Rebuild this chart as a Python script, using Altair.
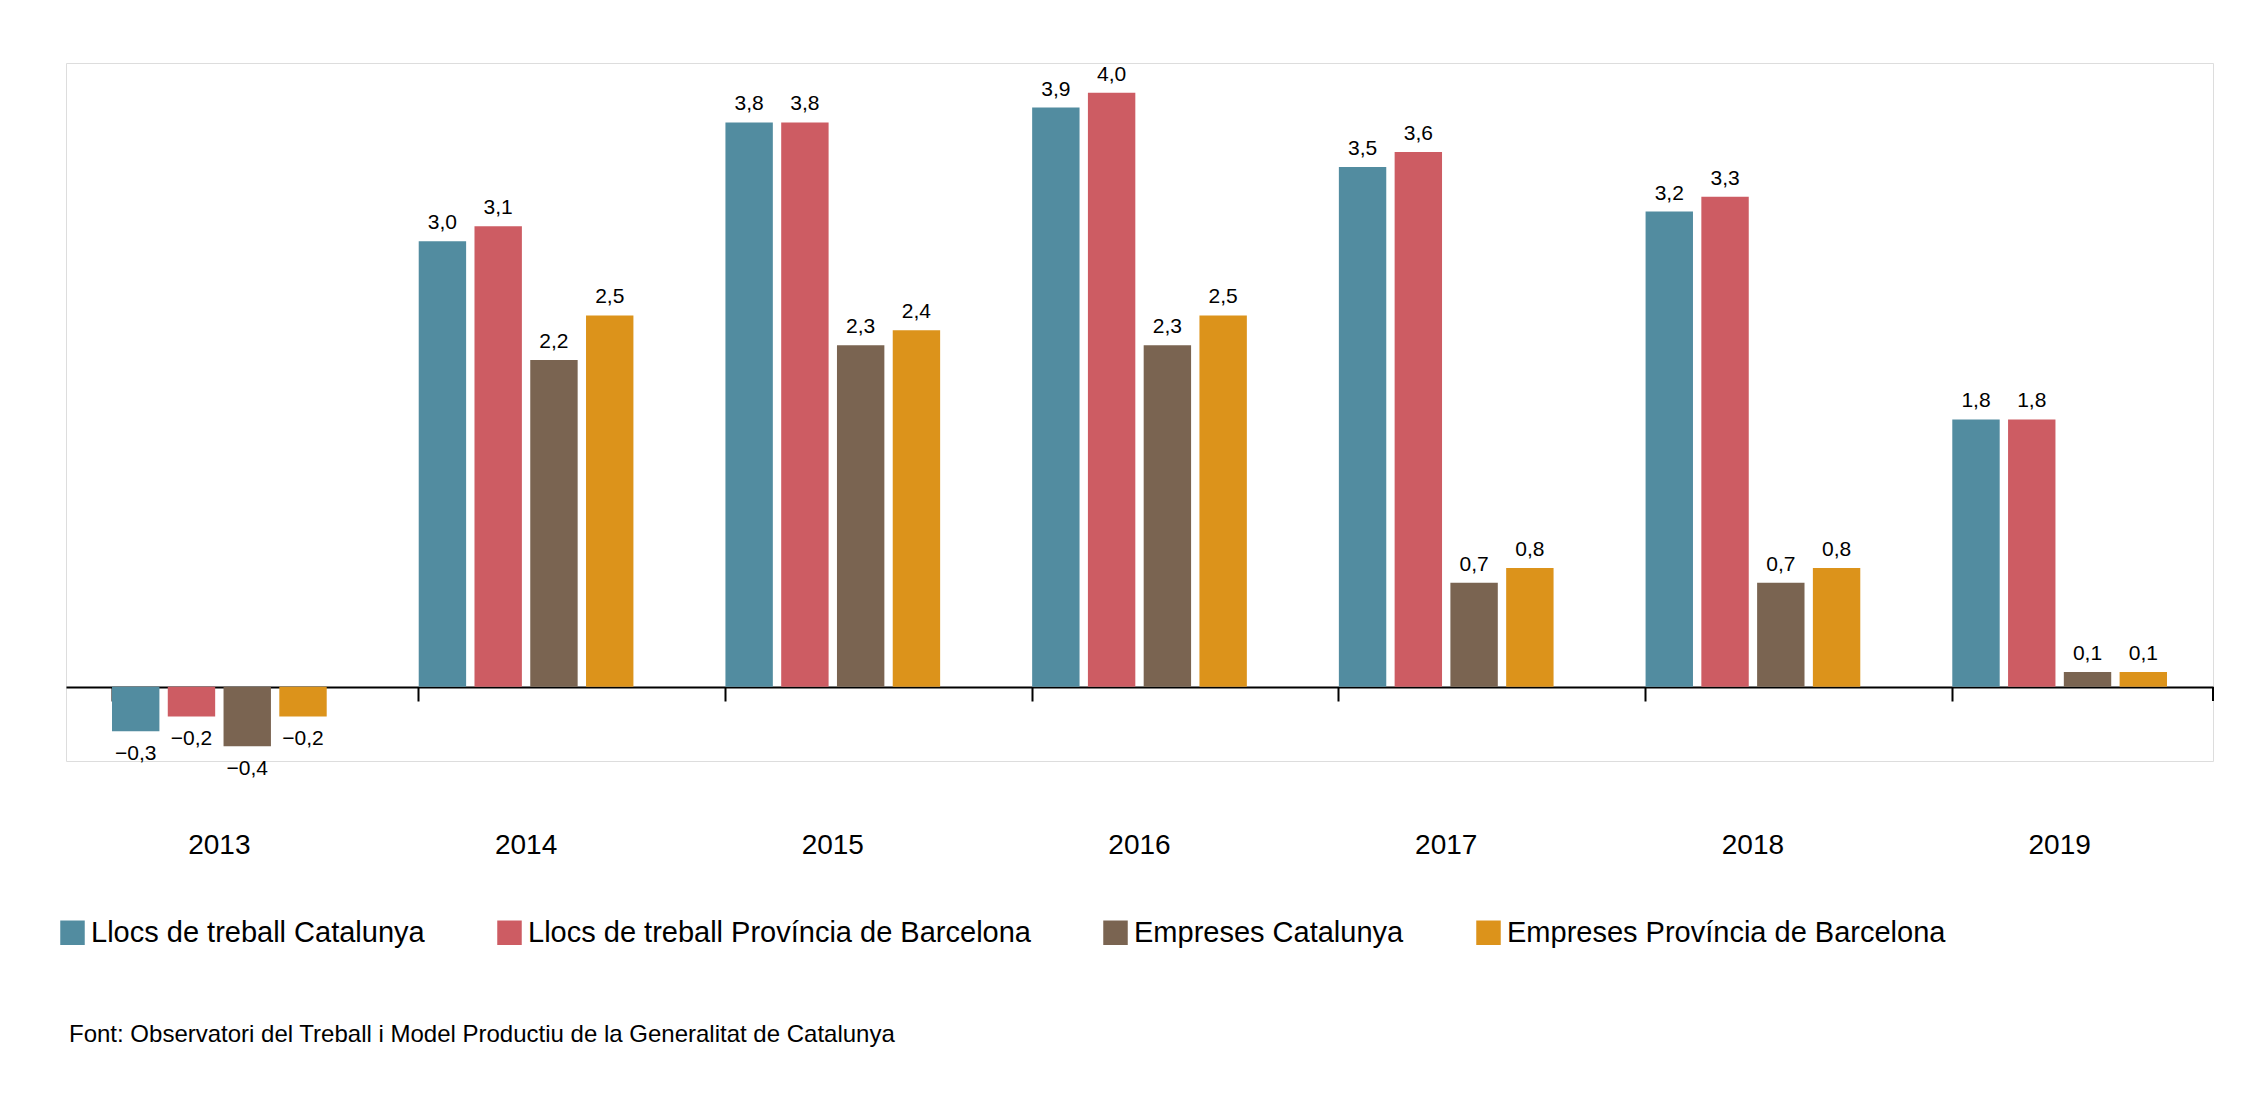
import altair as alt
import pandas as pd

anys = ["2013", "2014", "2015", "2016", "2017", "2018", "2019"]
series = [
    "Llocs de treball Catalunya",
    "Llocs de treball Província de Barcelona",
    "Empreses Catalunya",
    "Empreses Província de Barcelona",
]
colors = ["#528CA0", "#CD5C63", "#7A6451", "#DC931B"]

llocs_cat = [-0.3, 3.0, 3.8, 3.9, 3.5, 3.2, 1.8]
llocs_bcn = [-0.2, 3.1, 3.8, 4.0, 3.6, 3.3, 1.8]
empreses_cat = [-0.4, 2.2, 2.3, 2.3, 0.7, 0.7, 0.1]
empreses_bcn = [-0.2, 2.5, 2.4, 2.5, 0.8, 0.8, 0.1]

rows = []
for name, vals in zip(series, [llocs_cat, llocs_bcn, empreses_cat, empreses_bcn]):
    for a, v in zip(anys, vals):
        lab = f"{abs(v):.1f}".replace(".", ",")
        rows.append({"any": a, "serie": name, "valor": v,
                     "etiqueta": ("\u2212" + lab) if v < 0 else lab})
df = pd.DataFrame(rows)

W, H = 2147, 698
FONT = "Liberation Sans"

x = alt.X("any:N", sort=anys, scale=alt.Scale(paddingInner=0.3, paddingOuter=0.15),
          axis=alt.Axis(title=None, orient="bottom", offset=-74, bandPosition=0,
                        tickSize=14, tickColor="black", domainColor="black",
                        domainWidth=2, tickWidth=2, labelPadding=130,
                        labelFontSize=28, labelColor="black", labelFont=FONT,
                        labelAngle=0))
xo = alt.XOffset("serie:N", sort=series, scale=alt.Scale(paddingInner=0.15))
y = alt.Y("valor:Q", scale=alt.Scale(domain=[-0.5, 4.2], nice=False), axis=None)

base = alt.Chart(df)
bars = base.mark_bar().encode(
    x=x, xOffset=xo, y=y, y2=alt.datum(0),
    color=alt.Color("serie:N", sort=series, scale=alt.Scale(domain=series, range=colors),
                    legend=alt.Legend(title=None, orient="none", direction="horizontal",
                                      legendX=-8, legendY=855, symbolType="square",
                                      symbolSize=600, symbolStrokeWidth=0,
                                      labelFontSize=29, labelFont=FONT, labelColor="black",
                                      columnPadding=70, labelLimit=800)),
)
pos = base.transform_filter("datum.valor >= 0").mark_text(
    baseline="bottom", dy=-8, fontSize=21, font=FONT, color="black"
).encode(x=x, xOffset=xo, y=y, text="etiqueta:N")
neg = base.transform_filter("datum.valor < 0").mark_text(
    baseline="top", dy=12, fontSize=21, font=FONT, color="black"
).encode(x=x, xOffset=xo, y=y, text="etiqueta:N")
end_tick = alt.Chart(pd.DataFrame({"k": [0]})).mark_rule(color="black", strokeWidth=2).encode(
    x=alt.value(W), y=alt.value(H - 74), y2=alt.value(H - 60))
font_txt = alt.Chart(pd.DataFrame(
    {"t": ["Font: Observatori del Treball i Model Productiu de la Generalitat de Catalunya"]}
)).mark_text(align="left", baseline="middle", fontSize=24, font=FONT, color="black").encode(
    x=alt.value(3), y=alt.value(972), text="t:N")

chart = alt.layer(bars, pos, neg, end_tick, font_txt).properties(
    width=W, height=H, padding={"left": 50, "top": 55, "right": 10, "bottom": 10}
).configure_view(stroke=None).configure(background="white")

chart.save("out.html", embed_options={"renderer": "svg", "actions": False})
